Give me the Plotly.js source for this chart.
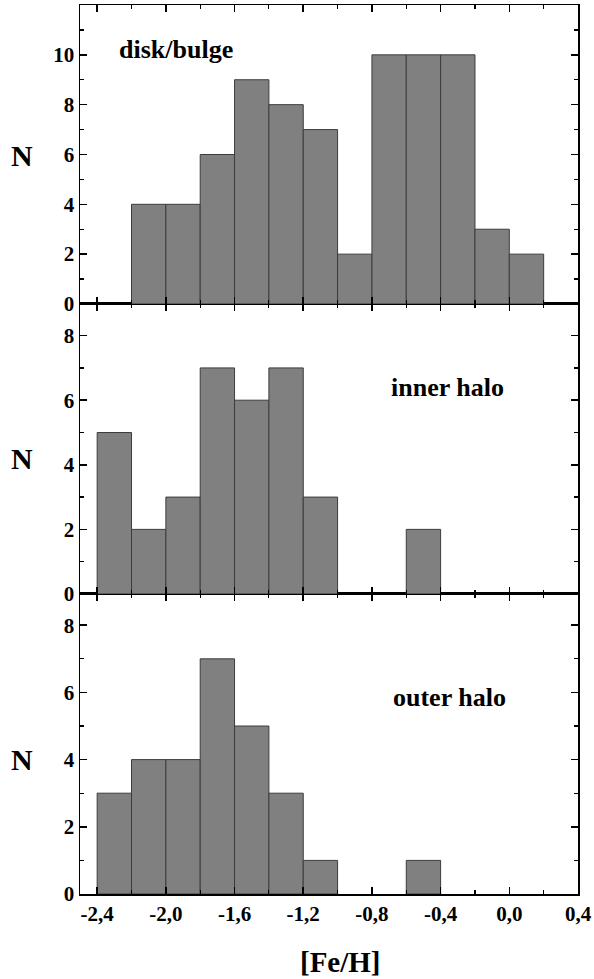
<!DOCTYPE html>
<html>
<head>
<meta charset="utf-8">
<script src="https://cdn.plot.ly/plotly-3.0.1.min.js"></script>
<style>html,body{margin:0;padding:0;background:#fff;}#chart{width:594px;height:979px;}</style>
</head>
<body>
<div id="chart"></div>
<script>
// bin centres of [Fe/H] (bin width 0.2)
const binCenters = [-2.3, -2.1, -1.9, -1.7, -1.5, -1.3, -1.1, -0.9, -0.7, -0.5, -0.3, -0.1, 0.1];
const diskBulge  = [0, 4, 4, 6, 9, 8, 7, 2, 10, 10, 10, 3, 2];
const innerHalo  = [5, 2, 3, 7, 6, 7, 3, 0, 0, 2, 0, 0, 0];
const outerHalo  = [3, 4, 4, 7, 5, 3, 1, 0, 0, 1, 0, 0, 0];
const panelNames = ['disk/bulge', 'inner halo', 'outer halo'];
const xTickVals  = [-2.4, -2.0, -1.6, -1.2, -0.8, -0.4, 0.0, 0.4];
const xTickText  = ['-2,4', '-2,0', '-1,6', '-1,2', '-0,8', '-0,4', '0,0', '0,4'];
const binWidth = 0.2;

const FONT = 'Liberation Serif, Times New Roman, serif';

function barTrace(counts, xa, ya) {
  const xs = [], ys = [];
  counts.forEach((c, i) => { if (c > 0) { xs.push(binCenters[i]); ys.push(c); } });
  return {
    type: 'bar', x: xs, y: ys, width: binWidth, xaxis: xa, yaxis: ya,
    marker: {color: '#808080', line: {color: '#3c3c3c', width: 1}},
    showlegend: false, hoverinfo: 'x+y'
  };
}

const data = [
  barTrace(outerHalo, 'x', 'y'),
  barTrace(innerHalo, 'x2', 'y2'),
  barTrace(diskBulge, 'x3', 'y3')
];

const tickFont = {family: FONT, size: 21, color: '#000', weight: 'bold'};

function xAxis(anchor, showLabels) {
  return {
    anchor: anchor, domain: [0, 1], range: [-2.5, 0.4],
    tickmode: 'array', tickvals: xTickVals, ticktext: xTickText,
    showticklabels: showLabels, ticks: 'inside', ticklen: 7, tickwidth: 1.5, tickcolor: '#000',
    minor: {tickmode: 'linear', tick0: -2.4, dtick: 0.2, ticks: 'inside', ticklen: 4, tickwidth: 1.2, tickcolor: '#000'},
    showline: true, linecolor: '#000', linewidth: 1.5, mirror: 'ticks',
    showgrid: false, zeroline: false, tickfont: tickFont, fixedrange: true
  };
}
function yAxis(anchor, domain, top) {
  return {
    anchor: anchor, domain: domain, range: [0, top],
    tickmode: 'linear', tick0: 0, dtick: 2,
    ticks: 'inside', ticklen: 7, tickwidth: 1.5, tickcolor: '#000',
    minor: {tickmode: 'linear', tick0: 1, dtick: 1, ticks: 'inside', ticklen: 4, tickwidth: 1.2, tickcolor: '#000'},
    showline: true, linecolor: '#000', linewidth: 1.5, mirror: 'ticks',
    showgrid: false, zeroline: false, tickfont: tickFont, fixedrange: true
  };
}

const bTop = 0.3375, mTop = 0.6637;
const annFont = {family: FONT, size: 26, weight: 'bold', color: '#000'};
const nFont = {family: FONT, size: 30, weight: 'bold', color: '#000'};

const layout = {
  width: 594, height: 979,
  margin: {l: 80, r: 16, t: 5, b: 85},
  paper_bgcolor: '#fff', plot_bgcolor: '#fff',
  bargap: 0,
  font: {family: FONT, color: '#000'},
  xaxis: xAxis('y', true),
  xaxis2: Object.assign(xAxis('y2', false), {matches: 'x'}),
  xaxis3: Object.assign(xAxis('y3', false), {matches: 'x'}),
  yaxis: yAxis('x', [0, bTop], 8.93),
  yaxis2: yAxis('x2', [bTop, mTop], 8.98),
  yaxis3: yAxis('x3', [mTop, 1], 12),
  annotations: [
    {text: panelNames[0], xref: 'x3', yref: 'y3', x: -1.94, y: 10.2, showarrow: false, font: annFont},
    {text: panelNames[1], xref: 'x2', yref: 'y2', x: -0.36, y: 6.38, showarrow: false, font: annFont},
    {text: panelNames[2], xref: 'x', yref: 'y', x: -0.35, y: 5.85, showarrow: false, font: annFont},
    {text: 'N', xref: 'paper', yref: 'paper', x: -0.116, y: 0.831, xanchor: 'center', yanchor: 'middle', showarrow: false, font: nFont},
    {text: 'N', xref: 'paper', yref: 'paper', x: -0.116, y: 0.490, xanchor: 'center', yanchor: 'middle', showarrow: false, font: nFont},
    {text: 'N', xref: 'paper', yref: 'paper', x: -0.116, y: 0.151, xanchor: 'center', yanchor: 'middle', showarrow: false, font: nFont},
    {text: '[Fe/H]', xref: 'paper', yref: 'paper', x: 0.524, y: -0.076, xanchor: 'center', yanchor: 'middle', showarrow: false,
     font: {family: FONT, size: 29, weight: 'bold', color: '#000'}}
  ]
};

Plotly.newPlot('chart', data, layout, {displayModeBar: false, staticPlot: true});
</script>
</body>
</html>
